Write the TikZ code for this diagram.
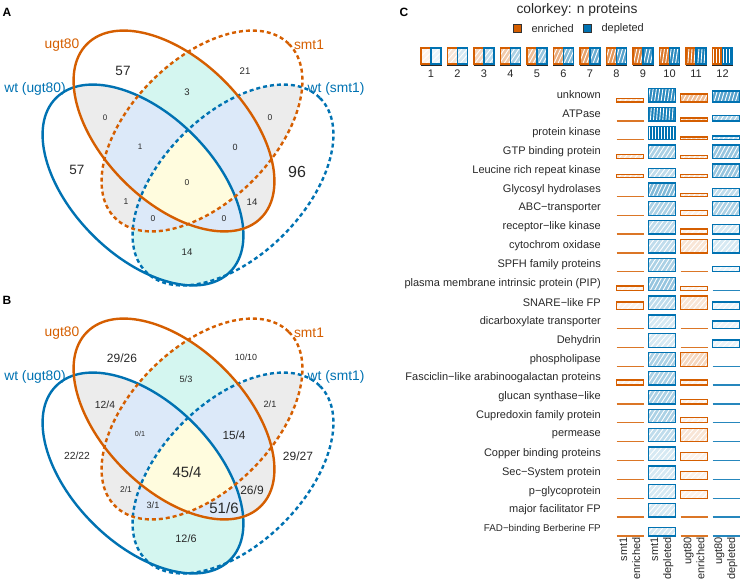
\documentclass[tikz,border=0pt]{standalone}
\usepackage{fontspec}
\setmainfont{Liberation Sans}
\usetikzlibrary{positioning}

\definecolor{enrcol}{RGB}{213,94,0}
\definecolor{depcol}{RGB}{0,114,178}
\definecolor{pairgray}{RGB}{236,236,236}
\definecolor{paircyan}{RGB}{212,246,240}
\definecolor{tripblue}{RGB}{220,233,249}
\definecolor{quadyel}{RGB}{255,252,222}
\definecolor{numtext}{RGB}{40,40,40}

\newcommand{\ellpath}{(0,0) ellipse (123 and 71)}
\newcommand{\pairfill}[3]{%
  \begin{scope}\clip[#1]\ellpath;\fill[#3,#2]\ellpath;\end{scope}}
\newcommand{\tripfill}[4]{%
  \begin{scope}\clip[#1]\ellpath;\clip[#2]\ellpath;\fill[#4,#3]\ellpath;\end{scope}}
\newcommand{\vennbody}[1]{%
  \pairfill{ellU}{ellWU}{pairgray}
  \pairfill{ellS}{ellWS}{pairgray}
  \pairfill{ellS}{ellWU}{pairgray}
  \pairfill{ellU}{ellWS}{pairgray}
  \pairfill{ellU}{ellS}{paircyan}
  \pairfill{ellWU}{ellWS}{paircyan}
  \tripfill{ellU}{ellS}{ellWU}{tripblue}
  \tripfill{ellU}{ellS}{ellWS}{tripblue}
  \tripfill{ellU}{ellWU}{ellWS}{tripblue}
  \tripfill{ellS}{ellWU}{ellWS}{tripblue}
  \begin{scope}
    \clip[ellU]\ellpath; \clip[ellS]\ellpath; \clip[ellWU]\ellpath;
    \fill[quadyel,ellWS]\ellpath;
  \end{scope}
  % outlines
  \draw[setline,depcol,ellWU]\ellpath;
  \draw[setline,depcol,dashlook,ellWS]\ellpath;
  \draw[setline,enrcol,dashlook,ellS]\ellpath;
  \draw[setline,enrcol,ellU]\ellpath;
  % set names
  \node[setlab,text=enrcol] (#1ugt) at (62,45) {ugt80};
  \node[setlab,text=enrcol] (#1smt) at (309,45) {smt1};
  \node[setlab,text=depcol] (#1wtugt) at (35,89) {wt (ugt80)};
  \node[setlab,text=depcol] (#1wtsmt) at (336,89) {wt (smt1)};
}

% hatched box: left, bottom, right, top, level, colour
\newcommand{\hatchrect}[6]{%
  \pgfmathtruncatemacro{\tintpct}{#5*100/12}
  \pgfmathsetmacro{\hatchang}{45+(#5-1)*45/11}
  \pgfmathsetmacro{\hstep}{(4.2-0.1*#5)/sin(\hatchang)}
  \pgfmathsetmacro{\hrun}{18*cos(\hatchang)/sin(\hatchang)}
  \fill[#6!\tintpct!white] (#1,#2) rectangle (#3,#4);
  \begin{scope}
    \clip (#1,#2) rectangle (#3,#4);
    \foreach \hi in {0,...,16}
      \draw[white,line width=0.9] (#1-20+\hi*\hstep,#2+1) -- ++(\hrun,-18);
  \end{scope}
  \draw[#6,cellline] (#1,#2) rectangle (#3,#4);}

% cell: x centre, bottom, height, level, colour
\newcommand{\cellbox}[5]{%
  \ifdim #3pt=0pt
    \draw[#5,cellline,opacity=0.85] (#1-13.5,#2) -- (#1+13.5,#2);
  \else
    \hatchrect{#1-13.5}{#2}{#1+13.5}{#2-#3}{#4}{#5}
  \fi}

\begin{document}
\begin{tikzpicture}[x=1pt,y=-1pt,
  ellU/.style={shift={(174,131)},rotate=-45},
  ellS/.style={shift={(202,131)},rotate=45},
  ellWU/.style={shift={(143,185)},rotate=-45},
  ellWS/.style={shift={(233,185)},rotate=45},
  setline/.style={line width=2.4},
  dashlook/.style={dash pattern=on 4 off 3},
  cellline/.style={line width=1.3},
  setlab/.style={font=\fontsize{13.8}{14}\selectfont,inner sep=0},
  num/.style={font=\fontsize{#1}{#1}\selectfont,text=numtext,inner sep=0},
  panel/.style={font=\fontsize{12}{12}\selectfont\bfseries,inner sep=0},
  smalltext/.style={font=\fontsize{11}{13}\selectfont,text=numtext,inner sep=0}]
\useasboundingbox (0,0) rectangle (743,583);

% ---- panel A
\node[panel] (panA) at (7,12) {A};
\vennbody{a}
\node[num=13.5] (a57u) at (123,71) {57};
\node[num=9.6] (a21) at (245,71) {21};
\node[num=9.5] (a3) at (187,92) {3};
\node[num=8] (a0l) at (105,118) {0};
\node[num=8.5] (a0r) at (270,118) {0};
\node[num=8] (a1l) at (140,147) {1};
\node[num=9] (a0m) at (235,147) {0};
\node[num=13.5] (a57w) at (77,170) {57};
\node[num=16] (a96) at (297,172) {96};
\node[num=8.5] (a0c) at (187,183) {0};
\node[num=8.5] (a1b) at (126,202) {1};
\node[num=9.6] (a14r) at (252,202) {14};
\node[num=8.5] (a0bl) at (153,219) {0};
\node[num=8.5] (a0br) at (224,219) {0};
\node[num=9.6] (a14b) at (187,252) {14};

% ---- panel B
\node[panel] (panB) at (7,300) {B};
\begin{scope}[shift={(0,288)}]
  \vennbody{b}
\end{scope}
\node[num=12] (b2926) at (122,358) {29/26};
\node[num=8.9] (b1010) at (246,357) {10/10};
\node[num=9.1] (b53) at (186,379) {5/3};
\node[num=10.3] (b124) at (105,405) {12/4};
\node[num=9.1] (b21r) at (270,404) {2/1};
\node[num=7.2] (b01) at (140,434) {0/1};
\node[num=11.8] (b154) at (234,435) {15/4};
\node[num=10.3] (b2222) at (77,456) {22/22};
\node[num=12] (b2927) at (298,456) {29/27};
\node[num=14.9] (b454) at (187,472) {45/4};
\node[num=8.4] (b21l) at (126,489) {2/1};
\node[num=12] (b269) at (252,490) {26/9};
\node[num=9.1] (b31) at (153,505) {3/1};
\node[num=15] (b516) at (224,508) {51/6};
\node[num=10.8] (b126) at (186,539) {12/6};

% ---- panel C
\node[panel] (panC) at (404,12) {C};
\node[font=\fontsize{13.8}{14}\selectfont,text=numtext,inner sep=0] (keytitle) at (577,10) {colorkey: n proteins};
\node[draw=black!80,fill=enrcol,minimum size=8,inner sep=0,line width=0.8] (sqenr) at (517,28.5) {};
\node[smalltext,right=10pt of sqenr] (txenr) {enriched};
\node[draw=black!80,fill=depcol,minimum size=8,inner sep=0,line width=0.8] (sqdep) at (587,28.5) {};
\node[smalltext,right=10pt of sqdep] (txdep) {depleted};

\foreach \k in {1,...,12} {
  \pgfmathsetmacro{\kx}{431+26.5*(\k-1)}
  \hatchrect{\kx-10}{64}{\kx}{48}{\k}{enrcol}
  \hatchrect{\kx}{64}{\kx+10}{48}{\k}{depcol}
  \draw[black!85,line width=1.3] (\kx-10.5,65.5) -- (\kx+10.5,65.5);
  \node[smalltext] (key\k) at (\kx,74) {\k};
}

\foreach \ri/\fs/\lbl/\ha/\la/\hb/\lb/\hc/\lc/\hd/\ld in {
  1/11/unknown/3.7/2/13.5/10/8/5/11/8,
  2/11/ATPase/0/0/13.5/11/3/3/5.7/4,
  3/11/protein kinase/0/0/13.5/12/2.7/3/3.7/3,
  4/11/GTP binding protein/4/2/13.5/4/3.3/2/13.5/5,
  5/11/Leucine rich repeat kinase/3.3/2/9/3/3.3/2/13.5/5,
  6/11/Glycosyl hydrolases/0/0/13.5/6/2.7/2/8/3,
  7/11/ABC−transporter/0/0/13.5/4/5/1/13.5/4,
  8/11/receptor−like kinase/0/0/13.5/3/5/1/9.7/2,
  9/11/cytochrom oxidase/0/0/13.5/3/13.5/2/13.5/2,
  10/11/SPFH family proteins/0/0/13.5/4/0/0/5/1,
  11/11/plasma membrane intrinsic protein (PIP)/4.7/1/13.5/5/4/1/0/0,
  12/11/SNARE−like FP/7.7/1/13.5/3/13.5/2/7.7/1,
  13/11/dicarboxylate transporter/0/0/13.5/2/0/0/7.3/1,
  14/11/Dehydrin/0/0/13.5/2/0/0/7.3/1,
  15/11/phospholipase/0/0/13.5/4/13.5/3/0/0,
  16/11/Fasciclin−like arabinoogalactan proteins/5/1/13.5/4/5/1/0/0,
  17/11/glucan synthase−like/0/0/13.5/4/4.7/1/0/0,
  18/11/Cupredoxin family protein/0/0/13.5/4/5/1/0/0,
  19/11/permease/0/0/13.5/3/13.5/2/0/0,
  20/11/Copper binding proteins/0/0/13.5/2/8/1/0/0,
  21/11/Sec−System protein/0/0/13.5/2/7.7/1/0/0,
  22/11/p−glycoprotein/0/0/13.5/2/7.7/1/0/0,
  23/11/major facilitator FP/0/0/13.5/2/0/0/0/0,
  24/9.8/FAD−binding Berberine FP/0/0/8.3/2/0/0/0/0} {
  \pgfmathsetmacro{\yrow}{95+(\ri-1)*18.87}
  \pgfmathsetmacro{\ybot}{\yrow+7}
  \node[anchor=east,inner sep=0,text=numtext,font=\fontsize{\fs}{\fs}\selectfont] (row\ri) at (601,\yrow) {\lbl};
  \cellbox{630}{\ybot}{\ha}{\la}{enrcol}
  \cellbox{662}{\ybot}{\hb}{\lb}{depcol}
  \cellbox{694}{\ybot}{\hc}{\lc}{enrcol}
  \cellbox{726}{\ybot}{\hd}{\ld}{depcol}
}

% column names
\foreach \cx/\grp/\dir in {630/smt1/enriched,662/smt1/depleted,694/ugt80/enriched,726/ugt80/depleted}
  \node[smalltext,rotate=90,anchor=east,align=right] (col\cx) at (\cx,537) {\grp\\\dir};
\end{tikzpicture}
\end{document}
